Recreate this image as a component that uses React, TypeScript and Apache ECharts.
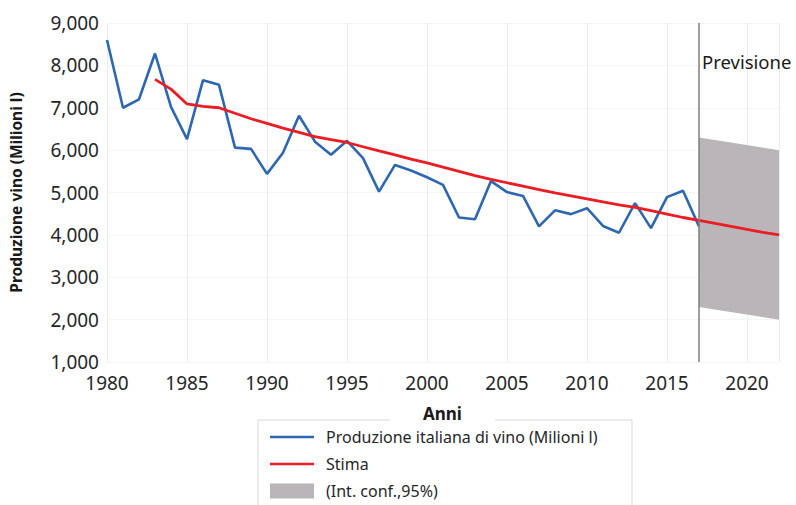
import React, { useEffect, useRef } from "react";
import * as echarts from "echarts";

const yearsProd = [1980,1981,1982,1983,1984,1985,1986,1987,1988,1989,1990,1991,1992,1993,1994,1995,1996,1997,1998,1999,2000,2001,2002,2003,2004,2005,2006,2007,2008,2009,2010,2011,2012,2013,2014,2015,2016,2017];
const produzione = [8600,7000,7200,8280,7020,6260,7650,7540,6060,6030,5440,5940,6810,6200,5890,6220,5810,5020,5650,5520,5360,5180,4410,4370,5270,5010,4920,4200,4580,4490,4630,4210,4050,4750,4160,4890,5040,4200];

const yearsStima = [1983,1984,1985,1986,1987,1988,1989,1990,1991,1992,1993,1994,1995,1996,1997,1998,1999,2000,2001,2002,2003,2004,2005,2006,2007,2008,2009,2010,2011,2012,2013,2014,2015,2016,2017,2018,2019,2020,2021,2022];
const stima = [7670,7440,7090,7030,7000,6870,6740,6630,6520,6420,6320,6250,6180,6080,5980,5890,5790,5700,5600,5500,5400,5310,5230,5150,5070,4990,4920,4850,4780,4710,4650,4570,4490,4410,4340,4270,4200,4130,4060,4000];

const yearsConf = [2017, 2022];
const confLow = [2300, 2000];
const confHigh = [6300, 6000];

const NAME_PROD = "Produzione italiana di vino (Milioni l)";
const NAME_STIMA = "Stima";
const NAME_CONF = "(Int. conf.,95%)";
const FORECAST_YEAR = 2017;

const FONT = "'Noto Sans', 'Liberation Sans', sans-serif";
const BAND = "#b9b5b9";
const BLUE = "#2e67b1";
const RED = "#ec1c24";
const LINE_ICON = "path://M0,0 L44,0 L44,2.6 L0,2.6 Z";

export default function App() {
  const ref = useRef<HTMLDivElement>(null);
  useEffect(() => {
    document.body.style.margin = "0";
    const chart = echarts.init(ref.current!, null, { renderer: "svg" });
    const option: any = {
      animation: false,
      backgroundColor: "#ffffff",
      grid: { left: 100, top: 23, width: 679, height: 339, containLabel: false },
      xAxis: {
        type: "value",
        min: 1980,
        max: 2022,
        interval: 5,
        axisLine: { show: false },
        axisTick: { show: false },
        splitLine: { show: true, lineStyle: { color: "#ececec", width: 1 } },
        axisLabel: {
          margin: 11,
          fontFamily: FONT,
          fontSize: 19,
          color: "#262626",
          formatter: (v: number) => (v % 5 === 0 ? String(v) : ""),
        },
      },
      yAxis: {
        type: "value",
        min: 1000,
        max: 9000,
        interval: 1000,
        name: "Produzione vino (Milioni l)",
        nameLocation: "middle",
        nameGap: 83,
        nameTextStyle: { fontFamily: FONT, fontSize: 15.5, fontWeight: "bold", color: "#1a1a1a" },
        axisLine: { show: false },
        axisTick: { show: false },
        splitLine: { show: true, lineStyle: { color: "#f5f5f5", width: 1 } },
        axisLabel: {
          margin: 8,
          fontFamily: FONT,
          fontSize: 19,
          color: "#262626",
          formatter: (v: number) => v.toLocaleString("en-US"),
        },
      },
      legend: {
        orient: "vertical",
        left: 270,
        top: 429,
        height: 120,
        padding: 0,
        itemWidth: 44,
        itemHeight: 15,
        itemGap: 11,
        textStyle: { fontFamily: FONT, fontSize: 16, color: "#262626", padding: [0, 0, 0, 7] },
        data: [
          { name: NAME_PROD, icon: LINE_ICON, itemStyle: { color: BLUE } },
          { name: NAME_STIMA, icon: LINE_ICON, itemStyle: { color: RED } },
          { name: NAME_CONF, icon: "rect", itemStyle: { color: BAND } },
        ],
      },
      graphic: [
        {
          type: "rect",
          z: 1,
          shape: { x: 258, y: 420, width: 374, height: 120 },
          style: { fill: "none", stroke: "#d9d9d9", lineWidth: 1 },
        },
        {
          type: "text",
          z: 10,
          left: 390,
          top: 405,
          style: {
            text: "Anni",
            fontFamily: FONT,
            fontSize: 17,
            fontWeight: "bold",
            fill: "#1a1a1a",
            backgroundColor: "#ffffff",
            padding: [0, 33, 0, 33],
          },
        },
        {
          type: "text",
          z: 10,
          left: 702,
          top: 52,
          style: { text: "Previsione", fontFamily: FONT, fontSize: 18.5, fill: "#1a1a1a" },
        },
      ],
      series: [
        {
          name: NAME_CONF,
          type: "custom",
          color: BAND,
          itemStyle: { color: BAND },
          silent: true,
          z: 1,
          data: yearsConf.map((y, i) => [y, confLow[i], confHigh[i]]),
          renderItem: (params: any, api: any) => {
            if (params.dataIndex !== 0) return null;
            const pts = [
              api.coord([yearsConf[0], confHigh[0]]),
              api.coord([yearsConf[1], confHigh[1]]),
              api.coord([yearsConf[1], confLow[1]]),
              api.coord([yearsConf[0], confLow[0]]),
            ];
            return {
              type: "polygon",
              shape: { points: pts },
              style: { fill: BAND, stroke: "none" },
            };
          },
          markLine: {
            silent: true,
            symbol: "none",
            label: { show: false },
            lineStyle: { color: "#7f7f7f", width: 1.5, type: "solid" },
            data: [{ xAxis: FORECAST_YEAR }],
          },
        },
        {
          name: NAME_PROD,
          type: "line",
          data: yearsProd.map((y, i) => [y, produzione[i]]),
          symbol: "none",
          color: BLUE,
          lineStyle: { color: BLUE, width: 2.6 },
          z: 3,
        },
        {
          name: NAME_STIMA,
          type: "line",
          data: yearsStima.map((y, i) => [y, stima[i]]),
          symbol: "none",
          color: RED,
          lineStyle: { color: RED, width: 2.8 },
          z: 4,
        },
      ],
    };
    chart.setOption(option);
    return () => chart.dispose();
  }, []);
  return <div ref={ref} style={{ width: 796, height: 505 }} />;
}
